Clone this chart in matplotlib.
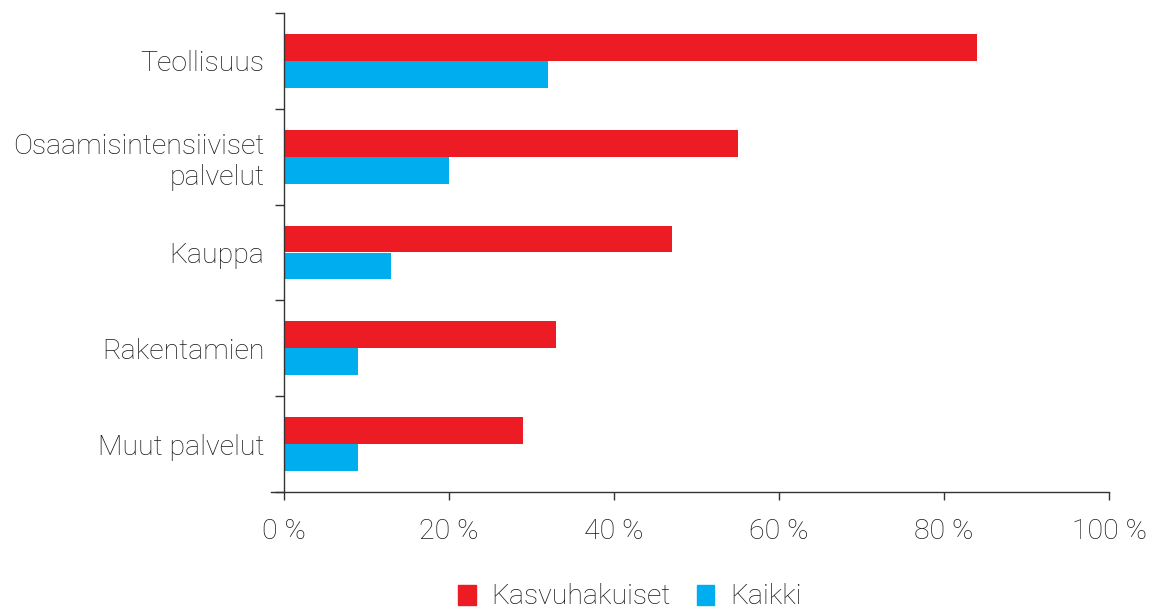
import matplotlib
matplotlib.use("Agg")
import matplotlib.pyplot as plt
import numpy as np
from matplotlib.patches import Patch

categories = ["Teollisuus", "Osaamisintensiiviset\npalvelut", "Kauppa", "Rakentamien", "Muut palvelut"]
kasvuhakuiset = [84, 55, 47, 33, 29]
kaikki = [32, 20, 13, 9, 9]
xticks = [0, 20, 40, 60, 80, 100]
xticklabels = ["0 %", "20 %", "40 %", "60 %", "80 %", "100 %"]

RED = "#ED1C24"
BLUE = "#00AEEF"
TXT = "#1a1a1a"
AX = "#333333"

plt.rcParams['font.family'] = ['Roboto', 'DejaVu Sans']
plt.rcParams['font.weight'] = 'light'
FS = 20.5

fig = plt.figure(figsize=(11.74, 6.12), dpi=100)
ax = fig.add_axes([284/1174, 1-492/612, (1109-284)/1174, (492-13)/612])

y = np.arange(len(categories))
h = 0.28
ax.barh(y - h/2, kasvuhakuiset, height=h, color=RED, label="Kasvuhakuiset")
ax.barh(y + h/2, kaikki, height=h, color=BLUE, label="Kaikki")

ax.set_ylim(len(categories) - 0.5, -0.5)
ax.set_xlim(0, 100)

ax.set_yticks(y)
ax.set_yticklabels(categories, fontsize=FS, color=TXT, linespacing=1.2, ha='right')
ax.set_yticks(np.arange(len(categories) + 1) - 0.5, minor=True)
ax.tick_params(axis='y', which='major', length=0, pad=14)
ax.tick_params(axis='y', which='minor', length=6.5, width=1, color=AX, direction='out')

ax.set_xticks(xticks)
ax.set_xticklabels(xticklabels, fontsize=FS, color=TXT)
ax.tick_params(axis='x', length=6, width=1, color=AX, direction='out', pad=13)

for s in ['top', 'right']:
    ax.spines[s].set_visible(False)
for s in ['left', 'bottom']:
    ax.spines[s].set_color(AX)
    ax.spines[s].set_linewidth(1)
ax.spines['bottom'].set_bounds(-1.6, 100)

handles = [Patch(color=RED, label="Kasvuhakuiset"), Patch(color=BLUE, label="Kaikki")]
fig.legend(handles=handles, loc='center', bbox_to_anchor=(630/1174, 1-597/612), ncol=2,
           frameon=False, fontsize=FS, handlelength=0.62, handleheight=0.7,
           handletextpad=0.55, columnspacing=0.9, labelcolor=TXT)

fig.savefig("out.png", dpi=100)
